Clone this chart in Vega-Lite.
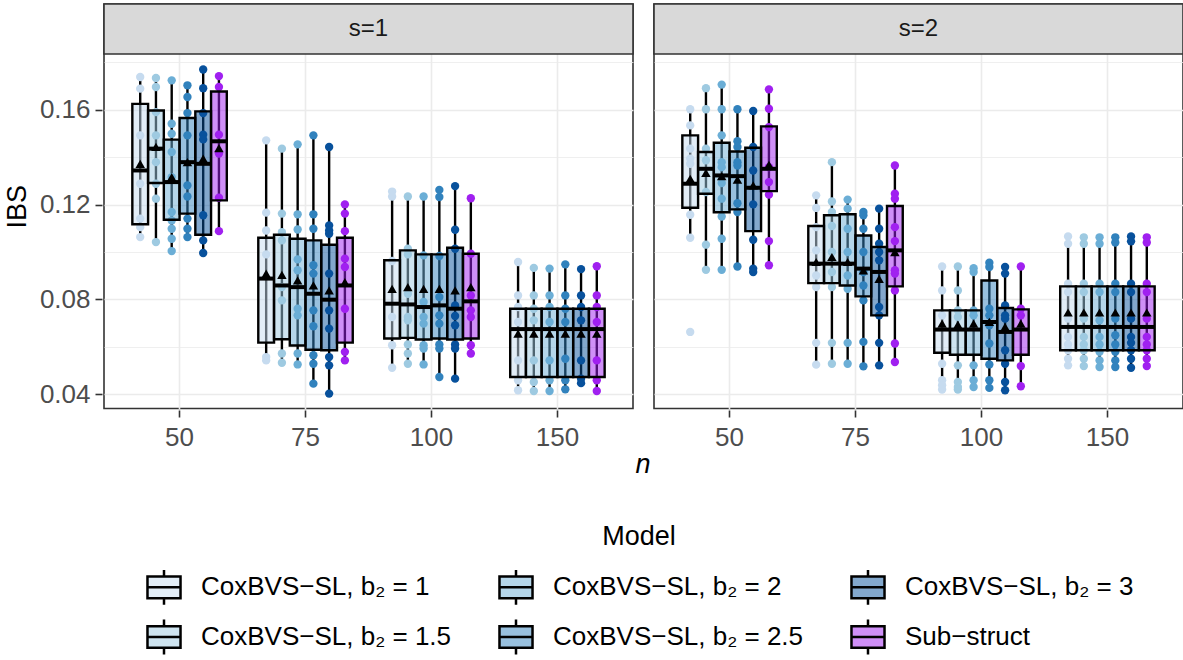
{
  "$schema": "https://vega.github.io/schema/vega-lite/v6.json",
  "background": "white",
  "padding": {"left": 3, "top": 2, "right": 3, "bottom": 2},
  "config": {
    "font": "Liberation Sans",
    "view": {"stroke": "#333333", "strokeWidth": 1.6},
    "axis": {"gridColor": "#ebebeb"}
  },
  "data": {"name": "d", "values": [
    {"s":"s=1","lab":"s=1"},{"s":"s=2","lab":"s=2"},
    {"s":"s=1","n":"50","m":"1","lo":0.1063,"q1":0.1117,"md":0.1344,"q3":0.1625,"hi":0.1738,"mn":0.1372},
    {"s":"s=1","n":"50","m":"1.5","lo":0.1042,"q1":0.1291,"md":0.1436,"q3":0.1597,"hi":0.1734,"mn":0.1443},
    {"s":"s=1","n":"50","m":"2","lo":0.1004,"q1":0.1136,"md":0.1295,"q3":0.1474,"hi":0.1724,"mn":0.1316},
    {"s":"s=1","n":"50","m":"2.5","lo":0.1063,"q1":0.1162,"md":0.1379,"q3":0.1565,"hi":0.1703,"mn":0.1379},
    {"s":"s=1","n":"50","m":"3","lo":0.0996,"q1":0.1073,"md":0.1372,"q3":0.1593,"hi":0.1770,"mn":0.1394},
    {"s":"s=1","n":"50","m":"Sub","lo":0.1088,"q1":0.1218,"md":0.1467,"q3":0.1677,"hi":0.1742,"mn":0.1438},
    {"s":"s=1","n":"75","m":"1","lo":0.0543,"q1":0.0618,"md":0.0888,"q3":0.1060,"hi":0.1471,"mn":0.0909},
    {"s":"s=1","n":"75","m":"1.5","lo":0.0533,"q1":0.0632,"md":0.0859,"q3":0.1073,"hi":0.1436,"mn":0.0904},
    {"s":"s=1","n":"75","m":"2","lo":0.0526,"q1":0.0606,"md":0.0852,"q3":0.1056,"hi":0.1454,"mn":0.0880},
    {"s":"s=1","n":"75","m":"2.5","lo":0.0445,"q1":0.0588,"md":0.0824,"q3":0.1049,"hi":0.1492,"mn":0.0859},
    {"s":"s=1","n":"75","m":"3","lo":0.0403,"q1":0.0586,"md":0.0799,"q3":0.1031,"hi":0.1443,"mn":0.0838},
    {"s":"s=1","n":"75","m":"Sub","lo":0.0543,"q1":0.0618,"md":0.0859,"q3":0.1060,"hi":0.1201,"mn":0.0873},
    {"s":"s=1","n":"100","m":"1","lo":0.0512,"q1":0.0635,"md":0.0782,"q3":0.0965,"hi":0.1255,"mn":0.0845},
    {"s":"s=1","n":"100","m":"1.5","lo":0.0529,"q1":0.0638,"md":0.0779,"q3":0.1007,"hi":0.1234,"mn":0.0852},
    {"s":"s=1","n":"100","m":"2","lo":0.0526,"q1":0.0631,"md":0.0768,"q3":0.0990,"hi":0.1234,"mn":0.0845},
    {"s":"s=1","n":"100","m":"2.5","lo":0.0473,"q1":0.0635,"md":0.0775,"q3":0.0990,"hi":0.1262,"mn":0.0845},
    {"s":"s=1","n":"100","m":"3","lo":0.0466,"q1":0.0631,"md":0.0761,"q3":0.1018,"hi":0.1278,"mn":0.0838},
    {"s":"s=1","n":"100","m":"Sub","lo":0.0572,"q1":0.0635,"md":0.0792,"q3":0.0993,"hi":0.1227,"mn":0.0852},
    {"s":"s=1","n":"150","m":"1","lo":0.0417,"q1":0.0473,"md":0.0675,"q3":0.0761,"hi":0.0958,"mn":0.0656},
    {"s":"s=1","n":"150","m":"1.5","lo":0.0414,"q1":0.0473,"md":0.0675,"q3":0.0761,"hi":0.0933,"mn":0.0656},
    {"s":"s=1","n":"150","m":"2","lo":0.0414,"q1":0.0473,"md":0.0675,"q3":0.0761,"hi":0.0930,"mn":0.0656},
    {"s":"s=1","n":"150","m":"2.5","lo":0.0421,"q1":0.0473,"md":0.0675,"q3":0.0761,"hi":0.0948,"mn":0.0656},
    {"s":"s=1","n":"150","m":"3","lo":0.0447,"q1":0.0473,"md":0.0675,"q3":0.0761,"hi":0.0928,"mn":0.0656},
    {"s":"s=1","n":"150","m":"Sub","lo":0.0414,"q1":0.0473,"md":0.0675,"q3":0.0761,"hi":0.0940,"mn":0.0656},
    {"s":"s=2","n":"50","m":"1","lo":0.1060,"q1":0.1187,"md":0.1288,"q3":0.1492,"hi":0.1602,"mn":0.1309},
    {"s":"s=2","n":"50","m":"1.5","lo":0.0925,"q1":0.1246,"md":0.1351,"q3":0.1422,"hi":0.1691,"mn":0.1334},
    {"s":"s=2","n":"50","m":"2","lo":0.0925,"q1":0.1168,"md":0.1323,"q3":0.1461,"hi":0.1706,"mn":0.1320},
    {"s":"s=2","n":"50","m":"2.5","lo":0.0939,"q1":0.1180,"md":0.1320,"q3":0.1424,"hi":0.1602,"mn":0.1305},
    {"s":"s=2","n":"50","m":"3","lo":0.0916,"q1":0.1088,"md":0.1271,"q3":0.1440,"hi":0.1595,"mn":0.1281},
    {"s":"s=2","n":"50","m":"Sub","lo":0.0944,"q1":0.1257,"md":0.1351,"q3":0.1530,"hi":0.1686,"mn":0.1368},
    {"s":"s=2","n":"75","m":"1","lo":0.0525,"q1":0.0869,"md":0.0951,"q3":0.1110,"hi":0.1239,"mn":0.0958},
    {"s":"s=2","n":"75","m":"1.5","lo":0.0529,"q1":0.0869,"md":0.0951,"q3":0.1155,"hi":0.1379,"mn":0.0979},
    {"s":"s=2","n":"75","m":"2","lo":0.0529,"q1":0.0859,"md":0.0951,"q3":0.1159,"hi":0.1221,"mn":0.0958},
    {"s":"s=2","n":"75","m":"2.5","lo":0.0518,"q1":0.0813,"md":0.0930,"q3":0.1070,"hi":0.1169,"mn":0.0923},
    {"s":"s=2","n":"75","m":"3","lo":0.0522,"q1":0.0733,"md":0.0916,"q3":0.1021,"hi":0.1183,"mn":0.0887},
    {"s":"s=2","n":"75","m":"Sub","lo":0.0536,"q1":0.0855,"md":0.1007,"q3":0.1194,"hi":0.1365,"mn":0.1000},
    {"s":"s=2","n":"100","m":"1","lo":0.0420,"q1":0.0575,"md":0.0673,"q3":0.0754,"hi":0.0939,"mn":0.0698},
    {"s":"s=2","n":"100","m":"1.5","lo":0.0420,"q1":0.0567,"md":0.0673,"q3":0.0754,"hi":0.0939,"mn":0.0694},
    {"s":"s=2","n":"100","m":"2","lo":0.0431,"q1":0.0567,"md":0.0673,"q3":0.0754,"hi":0.0932,"mn":0.0698},
    {"s":"s=2","n":"100","m":"2.5","lo":0.0427,"q1":0.0550,"md":0.0705,"q3":0.0880,"hi":0.0955,"mn":0.0705},
    {"s":"s=2","n":"100","m":"3","lo":0.0417,"q1":0.0543,"md":0.0663,"q3":0.0764,"hi":0.0937,"mn":0.0684},
    {"s":"s=2","n":"100","m":"Sub","lo":0.0434,"q1":0.0567,"md":0.0673,"q3":0.0758,"hi":0.0939,"mn":0.0698},
    {"s":"s=2","n":"150","m":"1","lo":0.0522,"q1":0.0586,"md":0.0684,"q3":0.0855,"hi":0.1066,"mn":0.0745},
    {"s":"s=2","n":"150","m":"1.5","lo":0.0519,"q1":0.0586,"md":0.0684,"q3":0.0855,"hi":0.1062,"mn":0.0745},
    {"s":"s=2","n":"150","m":"2","lo":0.0515,"q1":0.0586,"md":0.0684,"q3":0.0855,"hi":0.1062,"mn":0.0745},
    {"s":"s=2","n":"150","m":"2.5","lo":0.0515,"q1":0.0586,"md":0.0684,"q3":0.0855,"hi":0.1062,"mn":0.0745},
    {"s":"s=2","n":"150","m":"3","lo":0.0512,"q1":0.0586,"md":0.0684,"q3":0.0855,"hi":0.1066,"mn":0.0745},
    {"s":"s=2","n":"150","m":"Sub","lo":0.0515,"q1":0.0586,"md":0.0684,"q3":0.0855,"hi":0.1062,"mn":0.0745},

    {"s":"s=1","n":"50","m":"1","v":0.1738},{"s":"s=1","n":"50","m":"1","v":0.1689},{"s":"s=1","n":"50","m":"1","v":0.1492},{"s":"s=1","n":"50","m":"1","v":0.1288},{"s":"s=1","n":"50","m":"1","v":0.1141},{"s":"s=1","n":"50","m":"1","v":0.1105},{"s":"s=1","n":"50","m":"1","v":0.1063},
    {"s":"s=1","n":"50","m":"1.5","v":0.1734},{"s":"s=1","n":"50","m":"1.5","v":0.1696},{"s":"s=1","n":"50","m":"1.5","v":0.1590},{"s":"s=1","n":"50","m":"1.5","v":0.1492},{"s":"s=1","n":"50","m":"1.5","v":0.1379},{"s":"s=1","n":"50","m":"1.5","v":0.1288},{"s":"s=1","n":"50","m":"1.5","v":0.1225},{"s":"s=1","n":"50","m":"1.5","v":0.1042},
    {"s":"s=1","n":"50","m":"2","v":0.1724},{"s":"s=1","n":"50","m":"2","v":0.1541},{"s":"s=1","n":"50","m":"2","v":0.1499},{"s":"s=1","n":"50","m":"2","v":0.1422},{"s":"s=1","n":"50","m":"2","v":0.1316},{"s":"s=1","n":"50","m":"2","v":0.1169},{"s":"s=1","n":"50","m":"2","v":0.1133},{"s":"s=1","n":"50","m":"2","v":0.1098},{"s":"s=1","n":"50","m":"2","v":0.1056},{"s":"s=1","n":"50","m":"2","v":0.1004},
    {"s":"s=1","n":"50","m":"2.5","v":0.1703},{"s":"s=1","n":"50","m":"2.5","v":0.1654},{"s":"s=1","n":"50","m":"2.5","v":0.1586},{"s":"s=1","n":"50","m":"2.5","v":0.1492},{"s":"s=1","n":"50","m":"2.5","v":0.1281},{"s":"s=1","n":"50","m":"2.5","v":0.1234},{"s":"s=1","n":"50","m":"2.5","v":0.1141},{"s":"s=1","n":"50","m":"2.5","v":0.1098},{"s":"s=1","n":"50","m":"2.5","v":0.1063},
    {"s":"s=1","n":"50","m":"3","v":0.1770},{"s":"s=1","n":"50","m":"3","v":0.1691},{"s":"s=1","n":"50","m":"3","v":0.1586},{"s":"s=1","n":"50","m":"3","v":0.1495},{"s":"s=1","n":"50","m":"3","v":0.1475},{"s":"s=1","n":"50","m":"3","v":0.1155},{"s":"s=1","n":"50","m":"3","v":0.1049},{"s":"s=1","n":"50","m":"3","v":0.0996},
    {"s":"s=1","n":"50","m":"Sub","v":0.1742},{"s":"s=1","n":"50","m":"Sub","v":0.1696},{"s":"s=1","n":"50","m":"Sub","v":0.1495},{"s":"s=1","n":"50","m":"Sub","v":0.1415},{"s":"s=1","n":"50","m":"Sub","v":0.1229},{"s":"s=1","n":"50","m":"Sub","v":0.1088},

    {"s":"s=1","n":"75","m":"1","v":0.1471},{"s":"s=1","n":"75","m":"1","v":0.1166},{"s":"s=1","n":"75","m":"1","v":0.1091},{"s":"s=1","n":"75","m":"1","v":0.0990},{"s":"s=1","n":"75","m":"1","v":0.0557},{"s":"s=1","n":"75","m":"1","v":0.0543},
    {"s":"s=1","n":"75","m":"1.5","v":0.1436},{"s":"s=1","n":"75","m":"1.5","v":0.1162},{"s":"s=1","n":"75","m":"1.5","v":0.1084},{"s":"s=1","n":"75","m":"1.5","v":0.1049},{"s":"s=1","n":"75","m":"1.5","v":0.0852},{"s":"s=1","n":"75","m":"1.5","v":0.0796},{"s":"s=1","n":"75","m":"1.5","v":0.0572},{"s":"s=1","n":"75","m":"1.5","v":0.0533},
    {"s":"s=1","n":"75","m":"2","v":0.1454},{"s":"s=1","n":"75","m":"2","v":0.1159},{"s":"s=1","n":"75","m":"2","v":0.1095},{"s":"s=1","n":"75","m":"2","v":0.0969},{"s":"s=1","n":"75","m":"2","v":0.0923},{"s":"s=1","n":"75","m":"2","v":0.0761},{"s":"s=1","n":"75","m":"2","v":0.0733},{"s":"s=1","n":"75","m":"2","v":0.0572},{"s":"s=1","n":"75","m":"2","v":0.0526},
    {"s":"s=1","n":"75","m":"2.5","v":0.1492},{"s":"s=1","n":"75","m":"2.5","v":0.1159},{"s":"s=1","n":"75","m":"2.5","v":0.1098},{"s":"s=1","n":"75","m":"2.5","v":0.0944},{"s":"s=1","n":"75","m":"2.5","v":0.0909},{"s":"s=1","n":"75","m":"2.5","v":0.0754},{"s":"s=1","n":"75","m":"2.5","v":0.0687},{"s":"s=1","n":"75","m":"2.5","v":0.0565},{"s":"s=1","n":"75","m":"2.5","v":0.0529},{"s":"s=1","n":"75","m":"2.5","v":0.0445},
    {"s":"s=1","n":"75","m":"3","v":0.1443},{"s":"s=1","n":"75","m":"3","v":0.1112},{"s":"s=1","n":"75","m":"3","v":0.1091},{"s":"s=1","n":"75","m":"3","v":0.1077},{"s":"s=1","n":"75","m":"3","v":0.0909},{"s":"s=1","n":"75","m":"3","v":0.0754},{"s":"s=1","n":"75","m":"3","v":0.0677},{"s":"s=1","n":"75","m":"3","v":0.0557},{"s":"s=1","n":"75","m":"3","v":0.0522},{"s":"s=1","n":"75","m":"3","v":0.0403},
    {"s":"s=1","n":"75","m":"Sub","v":0.1201},{"s":"s=1","n":"75","m":"Sub","v":0.1162},{"s":"s=1","n":"75","m":"Sub","v":0.1088},{"s":"s=1","n":"75","m":"Sub","v":0.0972},{"s":"s=1","n":"75","m":"Sub","v":0.0937},{"s":"s=1","n":"75","m":"Sub","v":0.0761},{"s":"s=1","n":"75","m":"Sub","v":0.0579},{"s":"s=1","n":"75","m":"Sub","v":0.0543},

    {"s":"s=1","n":"100","m":"1","v":0.1255},{"s":"s=1","n":"100","m":"1","v":0.1234},{"s":"s=1","n":"100","m":"1","v":0.0962},{"s":"s=1","n":"100","m":"1","v":0.0726},{"s":"s=1","n":"100","m":"1","v":0.0607},{"s":"s=1","n":"100","m":"1","v":0.0512},
    {"s":"s=1","n":"100","m":"1.5","v":0.1234},{"s":"s=1","n":"100","m":"1.5","v":0.1014},{"s":"s=1","n":"100","m":"1.5","v":0.0990},{"s":"s=1","n":"100","m":"1.5","v":0.0824},{"s":"s=1","n":"100","m":"1.5","v":0.0726},{"s":"s=1","n":"100","m":"1.5","v":0.0712},{"s":"s=1","n":"100","m":"1.5","v":0.0610},{"s":"s=1","n":"100","m":"1.5","v":0.0572},{"s":"s=1","n":"100","m":"1.5","v":0.0529},
    {"s":"s=1","n":"100","m":"2","v":0.1234},{"s":"s=1","n":"100","m":"2","v":0.0986},{"s":"s=1","n":"100","m":"2","v":0.0789},{"s":"s=1","n":"100","m":"2","v":0.0726},{"s":"s=1","n":"100","m":"2","v":0.0698},{"s":"s=1","n":"100","m":"2","v":0.0607},{"s":"s=1","n":"100","m":"2","v":0.0593},{"s":"s=1","n":"100","m":"2","v":0.0526},
    {"s":"s=1","n":"100","m":"2.5","v":0.1262},{"s":"s=1","n":"100","m":"2.5","v":0.1232},{"s":"s=1","n":"100","m":"2.5","v":0.0983},{"s":"s=1","n":"100","m":"2.5","v":0.0810},{"s":"s=1","n":"100","m":"2.5","v":0.0733},{"s":"s=1","n":"100","m":"2.5","v":0.0698},{"s":"s=1","n":"100","m":"2.5","v":0.0610},{"s":"s=1","n":"100","m":"2.5","v":0.0593},{"s":"s=1","n":"100","m":"2.5","v":0.0473},
    {"s":"s=1","n":"100","m":"3","v":0.1278},{"s":"s=1","n":"100","m":"3","v":0.1094},{"s":"s=1","n":"100","m":"3","v":0.1014},{"s":"s=1","n":"100","m":"3","v":0.0775},{"s":"s=1","n":"100","m":"3","v":0.0730},{"s":"s=1","n":"100","m":"3","v":0.0691},{"s":"s=1","n":"100","m":"3","v":0.0610},{"s":"s=1","n":"100","m":"3","v":0.0593},{"s":"s=1","n":"100","m":"3","v":0.0466},
    {"s":"s=1","n":"100","m":"Sub","v":0.1227},{"s":"s=1","n":"100","m":"Sub","v":0.0993},{"s":"s=1","n":"100","m":"Sub","v":0.0817},{"s":"s=1","n":"100","m":"Sub","v":0.0754},{"s":"s=1","n":"100","m":"Sub","v":0.0726},{"s":"s=1","n":"100","m":"Sub","v":0.0607},{"s":"s=1","n":"100","m":"Sub","v":0.0572},

    {"s":"s=1","n":"150","m":"1","v":0.0958},{"s":"s=1","n":"150","m":"1","v":0.0817},{"s":"s=1","n":"150","m":"1","v":0.0768},{"s":"s=1","n":"150","m":"1","v":0.0705},{"s":"s=1","n":"150","m":"1","v":0.0543},{"s":"s=1","n":"150","m":"1","v":0.0459},{"s":"s=1","n":"150","m":"1","v":0.0417},
    {"s":"s=1","n":"150","m":"1.5","v":0.0933},{"s":"s=1","n":"150","m":"1.5","v":0.0817},{"s":"s=1","n":"150","m":"1.5","v":0.0761},{"s":"s=1","n":"150","m":"1.5","v":0.0712},{"s":"s=1","n":"150","m":"1.5","v":0.0543},{"s":"s=1","n":"150","m":"1.5","v":0.0452},{"s":"s=1","n":"150","m":"1.5","v":0.0414},
    {"s":"s=1","n":"150","m":"2","v":0.0930},{"s":"s=1","n":"150","m":"2","v":0.0817},{"s":"s=1","n":"150","m":"2","v":0.0768},{"s":"s=1","n":"150","m":"2","v":0.0705},{"s":"s=1","n":"150","m":"2","v":0.0543},{"s":"s=1","n":"150","m":"2","v":0.0459},{"s":"s=1","n":"150","m":"2","v":0.0414},
    {"s":"s=1","n":"150","m":"2.5","v":0.0948},{"s":"s=1","n":"150","m":"2.5","v":0.0817},{"s":"s=1","n":"150","m":"2.5","v":0.0761},{"s":"s=1","n":"150","m":"2.5","v":0.0705},{"s":"s=1","n":"150","m":"2.5","v":0.0550},{"s":"s=1","n":"150","m":"2.5","v":0.0459},{"s":"s=1","n":"150","m":"2.5","v":0.0421},
    {"s":"s=1","n":"150","m":"3","v":0.0928},{"s":"s=1","n":"150","m":"3","v":0.0817},{"s":"s=1","n":"150","m":"3","v":0.0768},{"s":"s=1","n":"150","m":"3","v":0.0712},{"s":"s=1","n":"150","m":"3","v":0.0543},{"s":"s=1","n":"150","m":"3","v":0.0466},{"s":"s=1","n":"150","m":"3","v":0.0447},
    {"s":"s=1","n":"150","m":"Sub","v":0.0940},{"s":"s=1","n":"150","m":"Sub","v":0.0817},{"s":"s=1","n":"150","m":"Sub","v":0.0768},{"s":"s=1","n":"150","m":"Sub","v":0.0705},{"s":"s=1","n":"150","m":"Sub","v":0.0543},{"s":"s=1","n":"150","m":"Sub","v":0.0459},{"s":"s=1","n":"150","m":"Sub","v":0.0414},

    {"s":"s=2","n":"50","m":"1","v":0.1602},{"s":"s=2","n":"50","m":"1","v":0.1534},{"s":"s=2","n":"50","m":"1","v":0.1436},{"s":"s=2","n":"50","m":"1","v":0.1394},{"s":"s=2","n":"50","m":"1","v":0.1372},{"s":"s=2","n":"50","m":"1","v":0.1157},{"s":"s=2","n":"50","m":"1","v":0.1060},{"s":"s=2","n":"50","m":"1","v":0.0663},
    {"s":"s=2","n":"50","m":"1.5","v":0.1691},{"s":"s=2","n":"50","m":"1.5","v":0.1602},{"s":"s=2","n":"50","m":"1.5","v":0.1436},{"s":"s=2","n":"50","m":"1.5","v":0.1387},{"s":"s=2","n":"50","m":"1.5","v":0.1253},{"s":"s=2","n":"50","m":"1.5","v":0.1031},{"s":"s=2","n":"50","m":"1.5","v":0.0925},
    {"s":"s=2","n":"50","m":"2","v":0.1706},{"s":"s=2","n":"50","m":"2","v":0.1602},{"s":"s=2","n":"50","m":"2","v":0.1492},{"s":"s=2","n":"50","m":"2","v":0.1379},{"s":"s=2","n":"50","m":"2","v":0.1358},{"s":"s=2","n":"50","m":"2","v":0.1291},{"s":"s=2","n":"50","m":"2","v":0.1225},{"s":"s=2","n":"50","m":"2","v":0.1150},{"s":"s=2","n":"50","m":"2","v":0.1056},{"s":"s=2","n":"50","m":"2","v":0.0925},
    {"s":"s=2","n":"50","m":"2.5","v":0.1602},{"s":"s=2","n":"50","m":"2.5","v":0.1467},{"s":"s=2","n":"50","m":"2.5","v":0.1443},{"s":"s=2","n":"50","m":"2.5","v":0.1379},{"s":"s=2","n":"50","m":"2.5","v":0.1365},{"s":"s=2","n":"50","m":"2.5","v":0.1206},{"s":"s=2","n":"50","m":"2.5","v":0.1169},{"s":"s=2","n":"50","m":"2.5","v":0.0939},
    {"s":"s=2","n":"50","m":"3","v":0.1595},{"s":"s=2","n":"50","m":"3","v":0.1443},{"s":"s=2","n":"50","m":"3","v":0.1344},{"s":"s=2","n":"50","m":"3","v":0.1201},{"s":"s=2","n":"50","m":"3","v":0.1052},{"s":"s=2","n":"50","m":"3","v":0.0930},{"s":"s=2","n":"50","m":"3","v":0.0916},
    {"s":"s=2","n":"50","m":"Sub","v":0.1686},{"s":"s=2","n":"50","m":"Sub","v":0.1604},{"s":"s=2","n":"50","m":"Sub","v":0.1527},{"s":"s=2","n":"50","m":"Sub","v":0.1358},{"s":"s=2","n":"50","m":"Sub","v":0.1295},{"s":"s=2","n":"50","m":"Sub","v":0.1242},{"s":"s=2","n":"50","m":"Sub","v":0.1046},{"s":"s=2","n":"50","m":"Sub","v":0.0944},

    {"s":"s=2","n":"75","m":"1","v":0.1239},{"s":"s=2","n":"75","m":"1","v":0.1186},{"s":"s=2","n":"75","m":"1","v":0.1105},{"s":"s=2","n":"75","m":"1","v":0.1007},{"s":"s=2","n":"75","m":"1","v":0.0901},{"s":"s=2","n":"75","m":"1","v":0.0852},{"s":"s=2","n":"75","m":"1","v":0.0617},{"s":"s=2","n":"75","m":"1","v":0.0525},
    {"s":"s=2","n":"75","m":"1.5","v":0.1379},{"s":"s=2","n":"75","m":"1.5","v":0.1213},{"s":"s=2","n":"75","m":"1.5","v":0.1169},{"s":"s=2","n":"75","m":"1.5","v":0.1110},{"s":"s=2","n":"75","m":"1.5","v":0.1000},{"s":"s=2","n":"75","m":"1.5","v":0.0916},{"s":"s=2","n":"75","m":"1.5","v":0.0852},{"s":"s=2","n":"75","m":"1.5","v":0.0617},{"s":"s=2","n":"75","m":"1.5","v":0.0529},
    {"s":"s=2","n":"75","m":"2","v":0.1221},{"s":"s=2","n":"75","m":"2","v":0.1183},{"s":"s=2","n":"75","m":"2","v":0.1098},{"s":"s=2","n":"75","m":"2","v":0.1000},{"s":"s=2","n":"75","m":"2","v":0.0901},{"s":"s=2","n":"75","m":"2","v":0.0845},{"s":"s=2","n":"75","m":"2","v":0.0617},{"s":"s=2","n":"75","m":"2","v":0.0529},
    {"s":"s=2","n":"75","m":"2.5","v":0.1169},{"s":"s=2","n":"75","m":"2.5","v":0.1155},{"s":"s=2","n":"75","m":"2.5","v":0.1098},{"s":"s=2","n":"75","m":"2.5","v":0.1000},{"s":"s=2","n":"75","m":"2.5","v":0.0916},{"s":"s=2","n":"75","m":"2.5","v":0.0859},{"s":"s=2","n":"75","m":"2.5","v":0.0796},{"s":"s=2","n":"75","m":"2.5","v":0.0621},{"s":"s=2","n":"75","m":"2.5","v":0.0518},
    {"s":"s=2","n":"75","m":"3","v":0.1183},{"s":"s=2","n":"75","m":"3","v":0.1098},{"s":"s=2","n":"75","m":"3","v":0.1035},{"s":"s=2","n":"75","m":"3","v":0.1000},{"s":"s=2","n":"75","m":"3","v":0.0965},{"s":"s=2","n":"75","m":"3","v":0.0768},{"s":"s=2","n":"75","m":"3","v":0.0733},{"s":"s=2","n":"75","m":"3","v":0.0617},{"s":"s=2","n":"75","m":"3","v":0.0522},
    {"s":"s=2","n":"75","m":"Sub","v":0.1365},{"s":"s=2","n":"75","m":"Sub","v":0.1246},{"s":"s=2","n":"75","m":"Sub","v":0.1225},{"s":"s=2","n":"75","m":"Sub","v":0.1105},{"s":"s=2","n":"75","m":"Sub","v":0.1046},{"s":"s=2","n":"75","m":"Sub","v":0.0923},{"s":"s=2","n":"75","m":"Sub","v":0.0909},{"s":"s=2","n":"75","m":"Sub","v":0.0838},{"s":"s=2","n":"75","m":"Sub","v":0.0614},{"s":"s=2","n":"75","m":"Sub","v":0.0536},

    {"s":"s=2","n":"100","m":"1","v":0.0939},{"s":"s=2","n":"100","m":"1","v":0.0838},{"s":"s=2","n":"100","m":"1","v":0.0733},{"s":"s=2","n":"100","m":"1","v":0.0529},{"s":"s=2","n":"100","m":"1","v":0.0459},{"s":"s=2","n":"100","m":"1","v":0.0438},{"s":"s=2","n":"100","m":"1","v":0.0420},
    {"s":"s=2","n":"100","m":"1.5","v":0.0939},{"s":"s=2","n":"100","m":"1.5","v":0.0838},{"s":"s=2","n":"100","m":"1.5","v":0.0754},{"s":"s=2","n":"100","m":"1.5","v":0.0726},{"s":"s=2","n":"100","m":"1.5","v":0.0522},{"s":"s=2","n":"100","m":"1.5","v":0.0452},{"s":"s=2","n":"100","m":"1.5","v":0.0431},{"s":"s=2","n":"100","m":"1.5","v":0.0420},
    {"s":"s=2","n":"100","m":"2","v":0.0932},{"s":"s=2","n":"100","m":"2","v":0.0916},{"s":"s=2","n":"100","m":"2","v":0.0754},{"s":"s=2","n":"100","m":"2","v":0.0733},{"s":"s=2","n":"100","m":"2","v":0.0522},{"s":"s=2","n":"100","m":"2","v":0.0459},{"s":"s=2","n":"100","m":"2","v":0.0431},
    {"s":"s=2","n":"100","m":"2.5","v":0.0955},{"s":"s=2","n":"100","m":"2.5","v":0.0937},{"s":"s=2","n":"100","m":"2.5","v":0.0761},{"s":"s=2","n":"100","m":"2.5","v":0.0733},{"s":"s=2","n":"100","m":"2.5","v":0.0691},{"s":"s=2","n":"100","m":"2.5","v":0.0614},{"s":"s=2","n":"100","m":"2.5","v":0.0526},{"s":"s=2","n":"100","m":"2.5","v":0.0459},{"s":"s=2","n":"100","m":"2.5","v":0.0427},
    {"s":"s=2","n":"100","m":"3","v":0.0937},{"s":"s=2","n":"100","m":"3","v":0.0909},{"s":"s=2","n":"100","m":"3","v":0.0775},{"s":"s=2","n":"100","m":"3","v":0.0733},{"s":"s=2","n":"100","m":"3","v":0.0719},{"s":"s=2","n":"100","m":"3","v":0.0586},{"s":"s=2","n":"100","m":"3","v":0.0529},{"s":"s=2","n":"100","m":"3","v":0.0452},{"s":"s=2","n":"100","m":"3","v":0.0417},
    {"s":"s=2","n":"100","m":"Sub","v":0.0939},{"s":"s=2","n":"100","m":"Sub","v":0.0761},{"s":"s=2","n":"100","m":"Sub","v":0.0733},{"s":"s=2","n":"100","m":"Sub","v":0.0519},{"s":"s=2","n":"100","m":"Sub","v":0.0434},

    {"s":"s=2","n":"150","m":"1","v":0.1066},{"s":"s=2","n":"150","m":"1","v":0.1035},{"s":"s=2","n":"150","m":"1","v":0.0866},{"s":"s=2","n":"150","m":"1","v":0.0831},{"s":"s=2","n":"150","m":"1","v":0.0719},{"s":"s=2","n":"150","m":"1","v":0.0642},{"s":"s=2","n":"150","m":"1","v":0.0610},{"s":"s=2","n":"150","m":"1","v":0.0586},{"s":"s=2","n":"150","m":"1","v":0.0550},{"s":"s=2","n":"150","m":"1","v":0.0522},
    {"s":"s=2","n":"150","m":"1.5","v":0.1062},{"s":"s=2","n":"150","m":"1.5","v":0.1035},{"s":"s=2","n":"150","m":"1.5","v":0.0866},{"s":"s=2","n":"150","m":"1.5","v":0.0831},{"s":"s=2","n":"150","m":"1.5","v":0.0719},{"s":"s=2","n":"150","m":"1.5","v":0.0642},{"s":"s=2","n":"150","m":"1.5","v":0.0610},{"s":"s=2","n":"150","m":"1.5","v":0.0586},{"s":"s=2","n":"150","m":"1.5","v":0.0550},{"s":"s=2","n":"150","m":"1.5","v":0.0519},
    {"s":"s=2","n":"150","m":"2","v":0.1062},{"s":"s=2","n":"150","m":"2","v":0.1035},{"s":"s=2","n":"150","m":"2","v":0.0866},{"s":"s=2","n":"150","m":"2","v":0.0831},{"s":"s=2","n":"150","m":"2","v":0.0712},{"s":"s=2","n":"150","m":"2","v":0.0642},{"s":"s=2","n":"150","m":"2","v":0.0610},{"s":"s=2","n":"150","m":"2","v":0.0579},{"s":"s=2","n":"150","m":"2","v":0.0543},{"s":"s=2","n":"150","m":"2","v":0.0515},
    {"s":"s=2","n":"150","m":"2.5","v":0.1062},{"s":"s=2","n":"150","m":"2.5","v":0.1040},{"s":"s=2","n":"150","m":"2.5","v":0.0866},{"s":"s=2","n":"150","m":"2.5","v":0.0831},{"s":"s=2","n":"150","m":"2.5","v":0.0719},{"s":"s=2","n":"150","m":"2.5","v":0.0649},{"s":"s=2","n":"150","m":"2.5","v":0.0610},{"s":"s=2","n":"150","m":"2.5","v":0.0579},{"s":"s=2","n":"150","m":"2.5","v":0.0543},{"s":"s=2","n":"150","m":"2.5","v":0.0515},
    {"s":"s=2","n":"150","m":"3","v":0.1066},{"s":"s=2","n":"150","m":"3","v":0.1045},{"s":"s=2","n":"150","m":"3","v":0.0866},{"s":"s=2","n":"150","m":"3","v":0.0831},{"s":"s=2","n":"150","m":"3","v":0.0719},{"s":"s=2","n":"150","m":"3","v":0.0642},{"s":"s=2","n":"150","m":"3","v":0.0617},{"s":"s=2","n":"150","m":"3","v":0.0586},{"s":"s=2","n":"150","m":"3","v":0.0550},{"s":"s=2","n":"150","m":"3","v":0.0512},
    {"s":"s=2","n":"150","m":"Sub","v":0.1062},{"s":"s=2","n":"150","m":"Sub","v":0.1040},{"s":"s=2","n":"150","m":"Sub","v":0.0866},{"s":"s=2","n":"150","m":"Sub","v":0.0831},{"s":"s=2","n":"150","m":"Sub","v":0.0719},{"s":"s=2","n":"150","m":"Sub","v":0.0642},{"s":"s=2","n":"150","m":"Sub","v":0.0610},{"s":"s=2","n":"150","m":"Sub","v":0.0586},{"s":"s=2","n":"150","m":"Sub","v":0.0550},{"s":"s=2","n":"150","m":"Sub","v":0.0519}
  ]},
  "facet": {
    "column": {
      "field": "s", "type": "nominal",
      "header": {
        "labels": false,
        "title": "n", "titleOrient": "bottom", "titleFontStyle": "italic",
        "titleFontSize": 27, "titleFontWeight": "normal", "titleColor": "black",
        "titlePadding": -8
      }
    }
  },
  "spacing": 17,
  "spec": {
    "width": 529,
    "height": 404.5,
    "layer": [
      {
        "transform": [{"filter": "datum.q1 != null"}],
        "mark": {"type": "rule", "color": "black", "strokeWidth": 2.4},
        "encoding": {
          "x": {"field": "n", "type": "ordinal", "sort": ["50", "75", "100", "150"],
                "scale": {"paddingInner": 0.25, "paddingOuter": 0.225},
                "title": null,
                "axis": {"labelAngle": 0, "domain": false, "grid": true, "bandPosition": 0.5,
                         "gridColor": "#ebebeb", "gridWidth": 1.6,
                         "tickSize": 7, "tickWidth": 1.6, "tickColor": "#333333",
                         "labelFontSize": 26, "labelColor": "#4d4d4d", "labelPadding": 7}},
          "xOffset": {"field": "m", "type": "nominal", "sort": ["1", "1.5", "2", "2.5", "3", "Sub"],
                      "scale": {"paddingInner": 0, "paddingOuter": 0}},
          "y": {"field": "lo", "type": "quantitative", "title": "IBS",
                "scale": {"domain": [0.03401, 0.2046], "nice": false, "zero": false},
                "axis": {"values": [0.04, 0.06, 0.08, 0.1, 0.12, 0.14, 0.16, 0.18],
                         "labelExpr": "round(datum.value*100) % 4 == 0 ? format(datum.value, '.2f') : ''",
                         "tickOpacity": {"condition": {"test": "round(datum.value*100) % 4 != 0", "value": 0}, "value": 1},
                         "gridWidth": {"condition": {"test": "round(datum.value*100) % 4 != 0", "value": 0.8}, "value": 1.6},
                         "gridColor": "#ebebeb", "domain": false,
                         "tickSize": 7, "tickWidth": 1.6, "tickColor": "#333333",
                         "labelFontSize": 26, "labelColor": "#4d4d4d", "labelPadding": 5,
                         "titleFontSize": 27, "titleFontWeight": "normal", "titleColor": "black", "titlePadding": 8}},
          "y2": {"field": "hi"}
        }
      },
      {
        "transform": [{"filter": "datum.lab != null"}],
        "mark": {"type": "rect", "fill": "#d9d9d9", "stroke": "#333333", "strokeWidth": 1.6},
        "encoding": {
          "y": {"datum": 0.18349, "type": "quantitative", "title": "IBS"},
          "y2": {"datum": 0.2046}
        }
      },
      {
        "transform": [{"filter": "datum.lab != null"}],
        "mark": {"type": "text", "fontSize": 24, "color": "#1a1a1a", "baseline": "middle"},
        "encoding": {
          "text": {"field": "lab"},
          "y": {"datum": 0.1940, "type": "quantitative", "title": "IBS"}
        }
      },
      {
        "transform": [{"filter": "datum.v != null"}],
        "mark": {"type": "point", "filled": true, "size": 70, "opacity": 1},
        "encoding": {
          "x": {"field": "n", "type": "ordinal", "sort": ["50", "75", "100", "150"], "title": null},
          "xOffset": {"field": "m", "type": "nominal", "sort": ["1", "1.5", "2", "2.5", "3", "Sub"]},
          "y": {"field": "v", "type": "quantitative", "title": "IBS"},
          "fill": {"field": "m", "type": "nominal",
                   "scale": {"domain": ["1", "2", "3", "1.5", "2.5", "Sub"],
                             "range": ["#c6dbef", "#6baed6", "#08519c", "#9ecae1", "#3182bd", "#a020f0"]}}
        }
      },
      {
        "transform": [{"filter": "datum.q1 != null"}],
        "mark": {"type": "bar", "stroke": "black", "strokeWidth": 2.4, "fillOpacity": 0.5},
        "encoding": {
          "x": {"field": "n", "type": "ordinal", "sort": ["50", "75", "100", "150"], "title": null},
          "xOffset": {"field": "m", "type": "nominal", "sort": ["1", "1.5", "2", "2.5", "3", "Sub"]},
          "y": {"field": "q1", "type": "quantitative", "title": "IBS"},
          "y2": {"field": "q3"},
          "fill": {"field": "m", "type": "nominal",
                   "scale": {"domain": ["1", "2", "3", "1.5", "2.5", "Sub"],
                             "range": ["#c6dbef", "#6baed6", "#08519c", "#9ecae1", "#3182bd", "#a020f0"]},
                   "legend": {
                     "title": "Model", "orient": "none", "legendX": 41, "legendY": 520,
                     "direction": "horizontal", "columns": 3,
                     "titleOrient": "top", "titleAnchor": "middle",
                     "titleFontSize": 27, "titleFontWeight": "normal", "titleColor": "black", "titlePadding": 17,
                     "labelFontSize": 26, "labelColor": "black", "labelOffset": 18, "labelLimit": 0,
                     "labelExpr": "datum.label == 'Sub' ? 'Sub−struct' : 'CoxBVS−SL, b₂ = ' + datum.label",
                     "symbolType": "M-0.95,-0.625H0.95V0.625H-0.95Z M0,-0.625V-1 M0,0.625V1 M-0.95,0H0.95",
                     "symbolSize": 1210, "symbolStrokeColor": "black", "symbolStrokeWidth": 2.5,
                     "rowPadding": 4, "columnPadding": 42,
                     "encode": {"symbols": {"update": {
                       "fillOpacity": {"value": 0.5}, "stroke": {"value": "black"},
                       "strokeWidth": {"value": 2.5}, "strokeOpacity": {"value": 1}, "opacity": {"value": 1}}}}
                   }}
        }
      },
      {
        "transform": [{"filter": "datum.q1 != null"}],
        "mark": {"type": "tick", "color": "black", "thickness": 4, "size": 15.5, "opacity": 1},
        "encoding": {
          "x": {"field": "n", "type": "ordinal", "sort": ["50", "75", "100", "150"], "title": null},
          "xOffset": {"field": "m", "type": "nominal", "sort": ["1", "1.5", "2", "2.5", "3", "Sub"]},
          "y": {"field": "md", "type": "quantitative", "title": "IBS"}
        }
      },
      {
        "transform": [{"filter": "datum.q1 != null"}],
        "mark": {"type": "point", "shape": "triangle-up", "filled": true, "color": "black", "size": 90, "opacity": 1},
        "encoding": {
          "x": {"field": "n", "type": "ordinal", "sort": ["50", "75", "100", "150"], "title": null},
          "xOffset": {"field": "m", "type": "nominal", "sort": ["1", "1.5", "2", "2.5", "3", "Sub"]},
          "y": {"field": "mn", "type": "quantitative", "title": "IBS"}
        }
      }
    ]
  }
}
